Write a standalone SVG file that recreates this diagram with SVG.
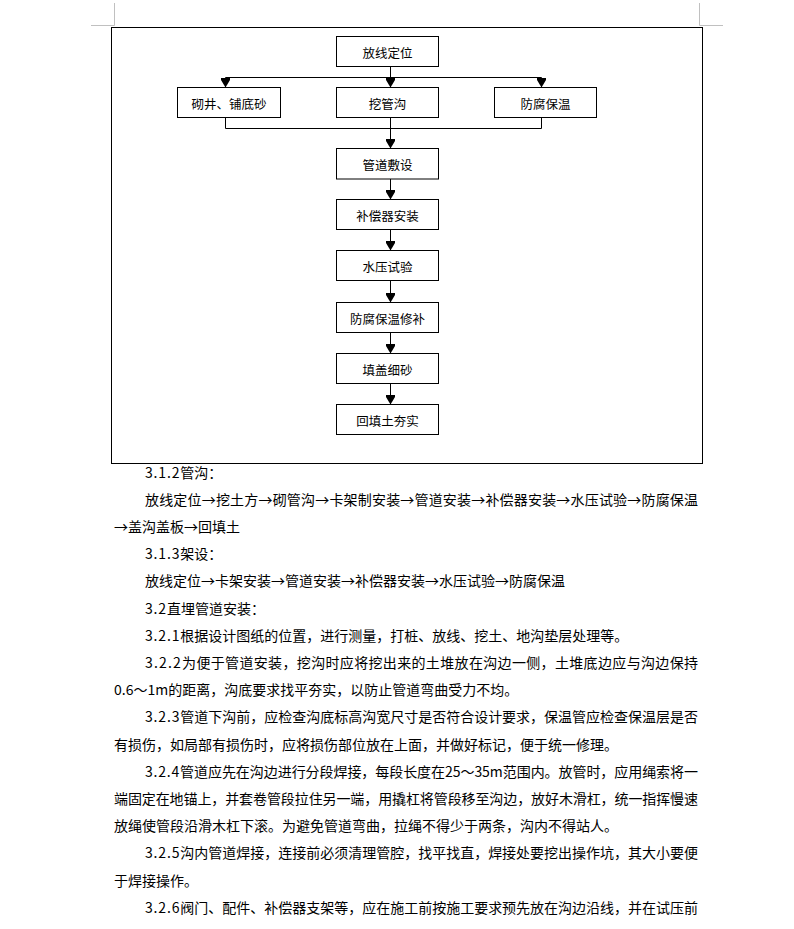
<svg xmlns="http://www.w3.org/2000/svg" width="794" height="929" viewBox="0 0 794 929">
<style>
.bg{fill:#ffffff}
.mark{stroke:#c0c0c0;stroke-width:1;fill:none}
.frame{fill:none;stroke:#000;stroke-width:1}
.box{fill:#fff;stroke:#000;stroke-width:1}
.lbl{font-family:"Noto Sans CJK SC","Noto Sans",sans-serif;font-size:12.5px;fill:#000;text-anchor:middle}
.ln{stroke:#000;stroke-width:1;fill:none}
.arr{stroke:#000;stroke-width:1;fill:none;marker-end:url(#ah)}
.t{font-family:"Noto Sans CJK SC","Noto Sans",sans-serif;font-size:14px;fill:#000}
.d{letter-spacing:0.85px}
</style>
<defs>
<marker id="ah" viewBox="0 0 10 10" refX="10" refY="5" markerWidth="10" markerHeight="9" orient="auto" markerUnits="userSpaceOnUse" preserveAspectRatio="none">
<path d="M0,0 L2.5,0 L10,5 L2.5,10 L0,10 z" fill="#000"/>
</marker>
</defs>
<rect class="bg" x="0" y="0" width="794" height="929"/>
<g id="page-marks">
<path class="mark" d="M114.5,3 V25.5 H91"/>
<path class="mark" d="M699.5,3 V25.5 H723"/>
</g>
<rect id="frame" class="frame" x="111.5" y="27.5" width="591" height="436"/>
<g id="connectors">
<path class="ln" d="M390.5,66.5 V77.5 M225.5,77.5 H541.5"/>
<path class="arr" d="M225.5,77.5 V87.5"/>
<path class="arr" d="M390.5,77.5 V87.5"/>
<path class="arr" d="M541.5,77.5 V87.5"/>
<path class="ln" d="M225.5,117.5 V128.5 H541.5 V117.5"/>
<path class="arr" d="M390.5,117.5 V148.5"/>
<path class="arr" d="M390.5,178.5 V199.5"/>
<path class="arr" d="M390.5,229.5 V250.5"/>
<path class="arr" d="M390.5,280.5 V302.5"/>
<path class="arr" d="M390.5,332.5 V353.5"/>
<path class="arr" d="M390.5,383.5 V404.5"/>
</g>
<g id="n1"><rect class="box" x="336.5" y="36.5" width="102" height="30"/><text class="lbl" x="387.5" y="57.5">放线定位</text></g>
<g id="n2"><rect class="box" x="177.5" y="87.5" width="103" height="30"/><text class="lbl" x="229" y="108.5">砌井、铺底砂</text></g>
<g id="n3"><rect class="box" x="336.5" y="87.5" width="102" height="30"/><text class="lbl" x="387.5" y="108.5">挖管沟</text></g>
<g id="n4"><rect class="box" x="494.5" y="87.5" width="102" height="30"/><text class="lbl" x="545.5" y="108.5">防腐保温</text></g>
<g id="n5"><rect class="box" x="336.5" y="148.5" width="102" height="30.5"/><text class="lbl" x="387.5" y="169.5">管道敷设</text></g>
<g id="n6"><rect class="box" x="336.5" y="199.5" width="102" height="30"/><text class="lbl" x="387.5" y="220.5">补偿器安装</text></g>
<g id="n7"><rect class="box" x="336.5" y="250.5" width="102" height="30"/><text class="lbl" x="387.5" y="271.5">水压试验</text></g>
<g id="n8"><rect class="box" x="336.5" y="302.5" width="102" height="30"/><text class="lbl" x="387.5" y="323.5">防腐保温修补</text></g>
<g id="n9"><rect class="box" x="336.5" y="353.5" width="102" height="30"/><text class="lbl" x="387.5" y="374.5">填盖细砂</text></g>
<g id="n10"><rect class="box" x="336.5" y="404.5" width="102" height="30"/><text class="lbl" x="387.5" y="425.5">回填土夯实</text></g>
<g id="body-text">
<text class="t" x="145" y="477.5"><tspan class="d">3.1.2</tspan>管沟：</text>
<text class="t" x="145" y="504.7" textLength="553">放线定位→挖土方→砌管沟→卡架制安装→管道安装→补偿器安装→水压试验→防腐保温</text>
<text class="t" x="114" y="531.9" textLength="126">→盖沟盖板→回填土</text>
<text class="t" x="145" y="559.1"><tspan class="d">3.1.3</tspan>架设：</text>
<text class="t" x="145" y="586.3" textLength="420">放线定位→卡架安装→管道安装→补偿器安装→水压试验→防腐保温</text>
<text class="t" x="145" y="613.5"><tspan class="d">3.2</tspan>直埋管道安装：</text>
<text class="t" x="145" y="640.7"><tspan class="d">3.2.1</tspan>根据设计图纸的位置，进行测量，打桩、放线、挖土、地沟垫层处理等。</text>
<text class="t" x="145" y="667.9" textLength="553"><tspan class="d">3.2.2</tspan>为便于管道安装，挖沟时应将挖出来的土堆放在沟边一侧，土堆底边应与沟边保持</text>
<text class="t" x="114" y="695.1">0.6～1m的距离，沟底要求找平夯实，以防止管道弯曲受力不均。</text>
<text class="t" x="145" y="722.3" textLength="553"><tspan class="d">3.2.3</tspan>管道下沟前，应检查沟底标高沟宽尺寸是否符合设计要求，保温管应检查保温层是否</text>
<text class="t" x="114" y="749.5">有损伤，如局部有损伤时，应将损伤部位放在上面，并做好标记，便于统一修理。</text>
<text class="t" x="145" y="776.7" textLength="553"><tspan class="d">3.2.4</tspan>管道应先在沟边进行分段焊接，每段长度在25～35m范围内。放管时，应用绳索将一</text>
<text class="t" x="114" y="803.9" textLength="584">端固定在地锚上，并套卷管段拉住另一端，用撬杠将管段移至沟边，放好木滑杠，统一指挥慢速</text>
<text class="t" x="114" y="831.1">放绳使管段沿滑木杠下滚。为避免管道弯曲，拉绳不得少于两条，沟内不得站人。</text>
<text class="t" x="145" y="858.3" textLength="553"><tspan class="d">3.2.5</tspan>沟内管道焊接，连接前必须清理管腔，找平找直，焊接处要挖出操作坑，其大小要便</text>
<text class="t" x="114" y="885.5">于焊接操作。</text>
<text class="t" x="145" y="912.7" textLength="553"><tspan class="d">3.2.6</tspan>阀门、配件、补偿器支架等，应在施工前按施工要求预先放在沟边沿线，并在试压前</text>
</g>
</svg>
